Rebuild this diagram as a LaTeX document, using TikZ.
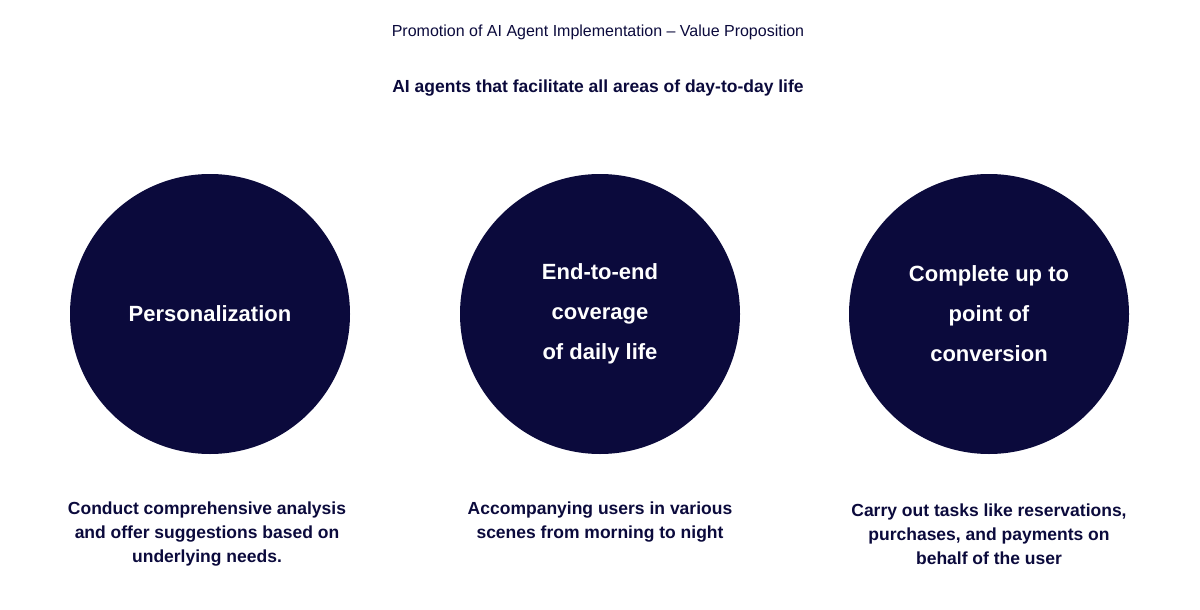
\documentclass[tikz,border=0pt]{standalone}
\usepackage{fontspec}
\setmainfont{Liberation Sans}
\definecolor{navy}{HTML}{0B0A3C}
\begin{document}
\begin{tikzpicture}[x=1pt,y=-1pt,
  circ/.style={circle,fill=navy,minimum size=280pt,inner sep=0pt},
  ctext/.style={text=white,font=\fontsize{22}{40}\selectfont\bfseries,align=center},
  btext/.style={text=navy,font=\fontsize{17.5}{24}\selectfont\bfseries,align=center}]
\useasboundingbox (0,0) rectangle (1200,610);
\node[text=navy,font=\fontsize{16}{20}\selectfont] (title) at (598,32) {Promotion of AI Agent Implementation -- Value Proposition};
\node[text=navy,font=\fontsize{17.5}{22}\selectfont\bfseries] (sub) at (598,88) {AI agents that facilitate all areas of day-to-day life};
\node[circ] (c1) at (210,314) {};
\node[circ] (c2) at (600,314) {};
\node[circ] (c3) at (989,314) {};
\node[ctext] (t1) at (c1) {Personalization};
\node[ctext] (t2) at (c2) {End-to-end\\coverage\\of daily life};
\node[ctext] (t3) at (c3) {Complete up to\\point of\\conversion};
\node[btext] (b1) at (207,534) {Conduct comprehensive analysis\\and offer suggestions based on\\underlying needs.};
\node[btext] (b2) at (600,522) {Accompanying users in various\\scenes from morning to night};
\node[btext] (b3) at (989,534) {Carry out tasks like reservations,\\purchases, and payments on\\behalf of the user};
\end{tikzpicture}
\end{document}
